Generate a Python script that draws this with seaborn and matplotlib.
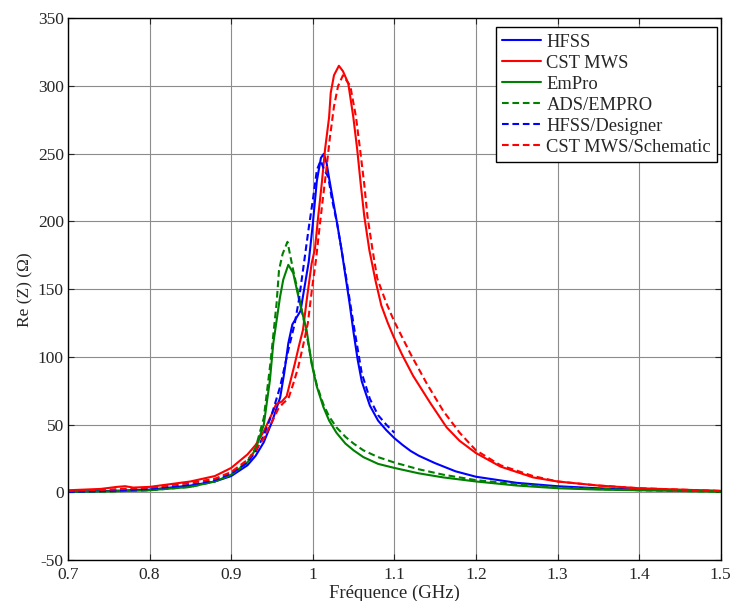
import pandas as pd
import seaborn as sns
import matplotlib.pyplot as plt
import numpy as np

# ---- data ------------------------------------------------------------
f_hfss = [0.70, 0.75, 0.80, 0.85, 0.88, 0.90, 0.92, 0.93, 0.94, 0.95, 0.96, 0.965, 0.97, 0.975,
          0.98, 0.985, 0.99, 0.995, 1.00, 1.005, 1.01, 1.0135, 1.017, 1.02, 1.025, 1.03, 1.035,
          1.04, 1.045, 1.05, 1.055, 1.06, 1.07, 1.08, 1.09, 1.10, 1.11, 1.12, 1.13, 1.15, 1.175,
          1.20, 1.25, 1.30, 1.35, 1.40, 1.45, 1.50]
z_hfss = [0.5, 1, 2, 5, 8, 12, 20, 27, 37, 52, 70, 88, 110, 124,
          129, 134, 152, 170, 198, 230, 247, 250, 243, 232, 215, 198, 180,
          160, 140, 118, 98, 82, 64, 53, 46, 40, 35, 30.5, 27, 21.5, 15.5,
          11.5, 7, 4.5, 3, 2, 1.5, 1]

f_cst = [0.70, 0.74, 0.76, 0.77, 0.78, 0.80, 0.85, 0.88, 0.90, 0.92, 0.93, 0.94, 0.95, 0.955,
         0.962, 0.968, 0.973, 0.978, 0.983, 0.988, 0.993, 0.9986, 1.0027, 1.0067, 1.011, 1.015,
         1.020, 1.022, 1.026, 1.032, 1.037, 1.0435, 1.0497, 1.0545, 1.0587, 1.0631, 1.0693,
         1.077, 1.084, 1.092, 1.099, 1.11, 1.123, 1.144, 1.164, 1.18, 1.20, 1.23, 1.27, 1.30,
         1.35, 1.40, 1.45, 1.50]
z_cst = [1.5, 2.5, 4, 4.5, 3.5, 4, 8, 12, 18, 28, 35, 45, 58, 65,
         67, 71, 83, 95, 108, 120, 144, 169, 180, 204, 228, 253,
         277, 295, 308, 315, 311, 302, 277, 253, 228, 204, 179,
         156, 138, 125, 115, 101, 86, 66, 48, 38, 29, 19, 11, 8,
         5, 3, 2, 1]

f_empro = [0.70, 0.75, 0.80, 0.85, 0.88, 0.90, 0.92, 0.93, 0.94, 0.9475, 0.9516, 0.9598, 0.9638,
           0.970, 0.976, 0.984, 0.9924, 0.9986, 1.005, 1.013, 1.02, 1.029, 1.04, 1.05, 1.062,
           1.08, 1.10, 1.13, 1.16, 1.20, 1.25, 1.30, 1.35, 1.40, 1.45, 1.50]
z_empro = [0.3, 0.7, 1.5, 4, 8, 13, 22, 32, 50, 83, 110, 144, 157,
           168, 162, 140, 120, 95, 78, 63, 53, 44, 36, 31, 26,
           21, 18, 14, 11, 8, 5, 3, 2, 1.5, 1, 0.5]

f_ads = [0.70, 0.75, 0.80, 0.85, 0.88, 0.90, 0.92, 0.93, 0.94, 0.948, 0.9557, 0.9586, 0.963,
         0.969, 0.976, 0.984, 0.992, 0.9986, 1.005, 1.013, 1.02, 1.029, 1.04, 1.05, 1.062,
         1.08, 1.10, 1.13, 1.16, 1.20, 1.25, 1.30, 1.40, 1.50]
z_ads = [0.2, 0.6, 1.5, 4, 8, 13, 23, 33, 55, 95, 140, 164, 176,
         185, 164, 142, 118, 96, 79, 65, 56, 48, 41, 36, 31,
         26, 22, 17, 13, 9, 6, 3.5, 1.5, 0.5]

f_hfss_des = [0.70, 0.75, 0.80, 0.85, 0.88, 0.90, 0.92, 0.93, 0.94, 0.95, 0.96, 0.97, 0.978,
              0.983, 0.988, 0.995, 1.0006, 1.005, 1.0097, 1.014, 1.019, 1.023, 1.03, 1.035,
              1.04, 1.05, 1.06, 1.07, 1.08, 1.09, 1.10]
z_hfss_des = [0.3, 1, 2.5, 5.5, 9, 14, 22, 30, 42, 58, 78, 105, 125,
              142, 164, 195, 218, 238, 245, 238, 233, 218, 198, 180,
              162, 124, 88, 69, 57, 50, 44]

f_cst_sch = [0.70, 0.75, 0.80, 0.85, 0.88, 0.90, 0.92, 0.93, 0.94, 0.95, 0.958, 0.964, 0.97,
             0.976, 0.982, 0.988, 0.994, 0.999, 1.004, 1.008, 1.012, 1.016, 1.021, 1.026, 1.031,
             1.037, 1.046, 1.053, 1.058, 1.063, 1.067, 1.073, 1.079, 1.09, 1.10, 1.12, 1.14,
             1.16, 1.18, 1.20, 1.23, 1.27, 1.30, 1.35, 1.40, 1.45, 1.50]
z_cst_sch = [1, 2, 3.5, 7, 10, 15, 24, 31, 40, 52, 62, 66, 69,
             80, 92, 108, 125, 150, 172, 194, 215, 235, 262, 285, 300,
             308, 300, 277, 253, 228, 204, 180, 158, 140, 126, 102, 80,
             60, 44, 31, 20, 12, 8, 5, 3, 2, 1]

names = ["HFSS", "CST MWS", "EmPro", "ADS/EMPRO", "HFSS/Designer", "CST MWS/Schematic"]
series = [(f_hfss, z_hfss), (f_cst, z_cst), (f_empro, z_empro),
          (f_ads, z_ads), (f_hfss_des, z_hfss_des), (f_cst_sch, z_cst_sch)]

df = pd.concat([pd.DataFrame({"freq": f, "rez": z, "series": n})
                for n, (f, z) in zip(names, series)], ignore_index=True)

palette = {"HFSS": "#0000ff", "CST MWS": "#ff0000", "EmPro": "#008000",
           "ADS/EMPRO": "#008000", "HFSS/Designer": "#0000ff", "CST MWS/Schematic": "#ff0000"}
dashes = {"HFSS": "", "CST MWS": "", "EmPro": "",
          "ADS/EMPRO": (3.2, 1.8), "HFSS/Designer": (3.2, 1.8), "CST MWS/Schematic": (3.2, 1.8)}

# ---- figure ----------------------------------------------------------
sns.set_style("ticks")
plt.rcParams["font.family"] = ["Liberation Serif", "DejaVu Serif"]
plt.rcParams["axes.unicode_minus"] = False

fig = plt.figure(figsize=(7.32, 6.01), dpi=100)
ax = fig.add_axes([0.0929, 0.0682, 0.8917, 0.9012])

sns.lineplot(data=df, x="freq", y="rez", hue="series", style="series",
             hue_order=names, style_order=names, palette=palette, dashes=dashes,
             estimator=None, sort=False, linewidth=1.5, ax=ax)

ax.set_xlim(0.7, 1.5)
ax.set_ylim(-50, 350)
ax.set_xticks(np.arange(0.7, 1.51, 0.1))
ax.set_xticklabels(["0.7", "0.8", "0.9", "1", "1.1", "1.2", "1.3", "1.4", "1.5"])
ax.set_yticks(np.arange(-50, 351, 50))
ax.grid(True, color="0.55", linewidth=0.8)
ax.set_axisbelow(True)
ax.tick_params(direction="in", length=4, top=True, right=True, labelsize=12.5)
ax.tick_params(axis="x", pad=5)
ax.tick_params(axis="y", pad=3)
for s in ax.spines.values():
    s.set_linewidth(1.0)
    s.set_color("black")

ax.set_xlabel("Fréquence (GHz)", fontsize=13.5, labelpad=1)
ax.set_ylabel("Re (Z) (Ω)", fontsize=12.5, labelpad=3)

handles, labels = ax.get_legend_handles_labels()
leg = ax.legend(handles, labels, loc="upper right", bbox_to_anchor=(0.995, 0.984),
                borderaxespad=0, fancybox=False, frameon=True, edgecolor="black",
                framealpha=1, fontsize=13.3, handlelength=2.1, handletextpad=0.3,
                labelspacing=0.22, borderpad=0.35)
leg.get_frame().set_linewidth(1.0)

fig.savefig("out.png", dpi=100)
